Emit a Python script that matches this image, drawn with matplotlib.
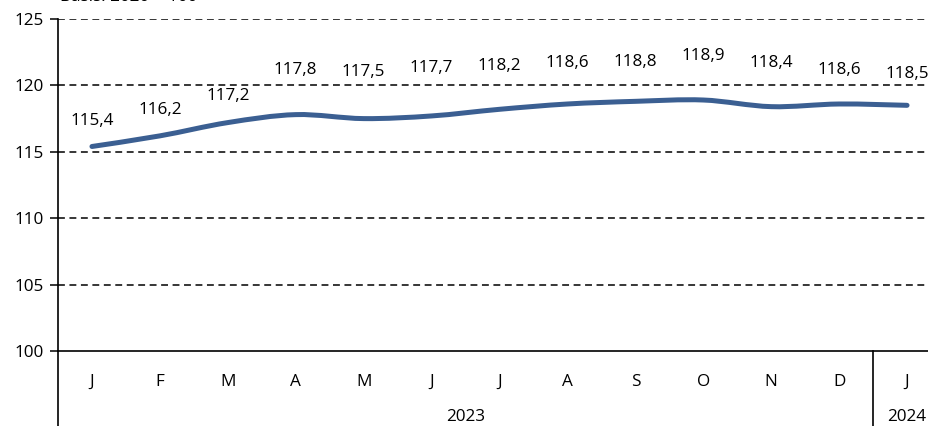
import numpy as np
import matplotlib as mpl
import matplotlib.pyplot as plt
from matplotlib.path import Path
from matplotlib.patches import PathPatch

mpl.rcParams['font.family'] = ['Open Sans', 'DejaVu Sans']
mpl.rcParams['font.size'] = 12.3

#-- data
months = ['J', 'F', 'M', 'A', 'M', 'J', 'J', 'A', 'S', 'O', 'N', 'D', 'J']
years = ['2023', '2024']
year_len = [12, 1]
values = [115.4, 116.2, 117.2, 117.8, 117.5, 117.7, 118.2, 118.6, 118.8, 118.9, 118.4, 118.6, 118.5]
labels = ['115,4', '116,2', '117,2', '117,8', '117,5', '117,7', '118,2',
          '118,6', '118,8', '118,9', '118,4', '118,6', '118,5']
yticks = [100, 105, 110, 115, 120, 125]

#-- label offsets above the point, in pixels (manual placement in the original)
label_dy = [25, 26, 27, 45, 47, 48, 43, 41, 39, 44, 44, 34, 31]

col = '#3b5f92'
W, H = 929, 426
fig = plt.figure(figsize=(W/100, H/100), dpi=100)
# axes runs a bit past the right edge of the picture, as in the reference
ax = fig.add_axes([58/W, (H-351)/H, 883/W, 332/H])

x = np.arange(len(values))

#-- smoothed line drawn as cubic bezier segments (Excel style smoothing)
verts = [(x[0], values[0])]
codes = [Path.MOVETO]
n = len(values)
for i in range(n-1):
    p0 = np.array([x[max(i-1, 0)], values[max(i-1, 0)]])
    p1 = np.array([x[i], values[i]])
    p2 = np.array([x[i+1], values[i+1]])
    p3 = np.array([x[min(i+2, n-1)], values[min(i+2, n-1)]])
    c1 = p1 + (p2 - p0) / 6.0
    c2 = p2 - (p3 - p1) / 6.0
    verts += [tuple(c1), tuple(c2), tuple(p2)]
    codes += [Path.CURVE4]*3
ax.add_patch(PathPatch(Path(verts, codes), facecolor='none', edgecolor=col,
                       lw=3.6, capstyle='round', joinstyle='round', zorder=3))

for xi, v, lab, dy in zip(x, values, labels, label_dy):
    ax.annotate(lab, (xi, v), xytext=(0, dy*0.72), textcoords='offset points',
                ha='center', va='center', color='black')

ax.set_xlim(-0.5, len(values)-0.5)
ax.set_ylim(100, 125)
ax.set_yticks(yticks)
for yv in yticks[1:]:
    ax.axhline(yv, color='black', lw=1.1, ls=(0, (4.5, 3)), zorder=1)

for s in ['top', 'right']:
    ax.spines[s].set_visible(False)
ax.spines['left'].set_linewidth(1.2)
ax.spines['bottom'].set_linewidth(1.2)
ax.tick_params(axis='y', length=6, width=1.1, direction='out', pad=4)
ax.tick_params(axis='x', length=0, labelbottom=False)

#-- two-level category axis below the plot
for xi, m in zip(x, months):
    ax.text(xi, -0.092, m, transform=ax.get_xaxis_transform(), ha='center', va='center')
start = -0.5
for yr, ln in zip(years, year_len):
    ax.text(start + ln/2.0, -0.198, yr, transform=ax.get_xaxis_transform(),
            ha='center', va='center')
    ax.plot([start, start], [0, -0.3], transform=ax.get_xaxis_transform(),
            color='black', lw=1.2, clip_on=False)
    start += ln

fig.text(60/W, 1 + 3/H, 'Basis: 2020 = 100', ha='left', va='center')

fig.savefig('out.png', dpi=100)
